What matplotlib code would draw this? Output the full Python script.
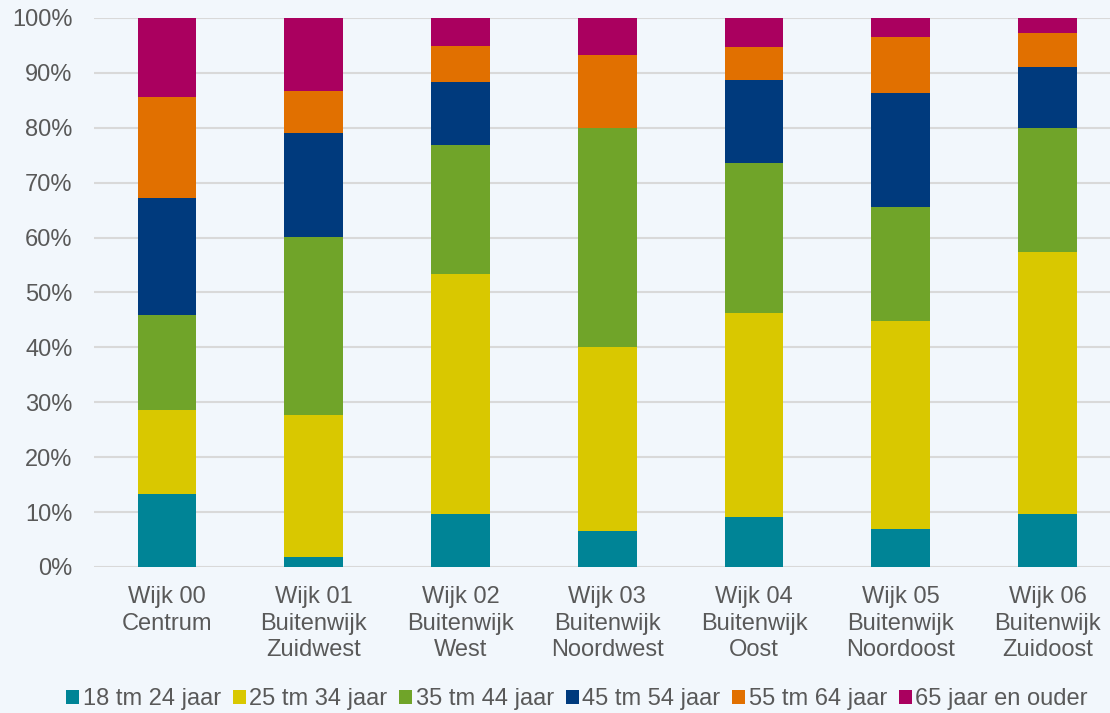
import numpy as np
import matplotlib.pyplot as plt

plt.rcParams['font.family'] = ['Liberation Sans', 'DejaVu Sans']

wijken = ['Wijk 00\nCentrum', 'Wijk 01\nBuitenwijk\nZuidwest', 'Wijk 02\nBuitenwijk\nWest',
          'Wijk 03\nBuitenwijk\nNoordwest', 'Wijk 04\nBuitenwijk\nOost',
          'Wijk 05\nBuitenwijk\nNoordoost', 'Wijk 06\nBuitenwijk\nZuidoost']

groepen = ['18 tm 24 jaar', '25 tm 34 jaar', '35 tm 44 jaar', '45 tm 54 jaar',
           '55 tm 64 jaar', '65 jaar en ouder']

# aandeel per leeftijdsgroep (%)
g18_24 = [13.3, 1.8, 9.7, 6.6, 9.1, 6.9, 9.7]
g25_34 = [15.3, 25.9, 43.7, 33.5, 37.2, 37.9, 47.7]
g35_44 = [17.3, 32.4, 23.5, 39.9, 27.3, 20.8, 22.6]
g45_54 = [21.3, 19.0, 11.4, 0.0, 15.1, 20.7, 11.1]
g55_64 = [18.4, 7.6, 6.6, 13.3, 6.0, 10.2, 6.2]
g65 = [14.4, 13.3, 5.1, 6.7, 5.3, 3.5, 2.7]

kleuren = ['#008496', '#D9C800', '#70A429', '#003A7D', '#E17000', '#AA005F']

series = [g18_24, g25_34, g35_44, g45_54, g55_64, g65]

fig = plt.figure(figsize=(11.1, 7.13), dpi=100)
bg = '#F2F7FC'
fig.patch.set_facecolor(bg)
ax = fig.add_axes([0.0843, 0.2048, 0.9256, 0.77])
ax.set_facecolor(bg)

x = np.arange(len(wijken))
bottom = np.zeros(len(wijken))
for naam, vals, kleur in zip(groepen, series, kleuren):
    ax.bar(x, vals, 0.4, bottom=bottom, color=kleur, label=naam, zorder=3)
    bottom += np.array(vals)

ax.set_xlim(-0.5, 6.5)
ax.set_ylim(0, 100)
ax.set_yticks(np.arange(0, 101, 10))
ax.set_yticklabels(['{}%'.format(v) for v in range(0, 101, 10)])
ax.set_xticks(x)
ax.set_xticklabels(wijken, linespacing=1.25)
ax.yaxis.grid(True, color='#D9D9D9', linewidth=1.5, zorder=0)
ax.tick_params(axis='both', length=0, labelsize=17, colors='#595959')
ax.tick_params(axis='x', pad=14)
ax.tick_params(axis='y', pad=15)
for s in ax.spines.values():
    s.set_visible(False)

fig.legend(loc='center', bbox_to_anchor=(0.52, 0.019), ncol=6, frameon=False,
           fontsize=17, handlelength=0.55, handleheight=0.55, handletextpad=0.15,
           columnspacing=0.5, labelcolor='#595959')

fig.savefig('out.png', dpi=100, facecolor=bg)
